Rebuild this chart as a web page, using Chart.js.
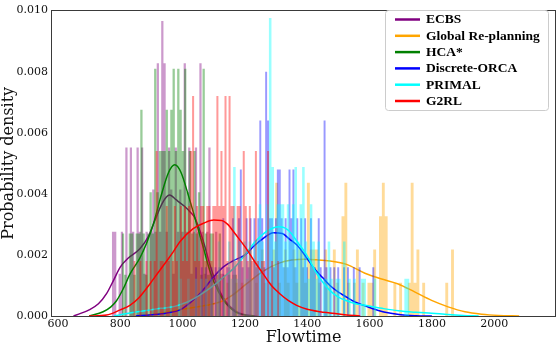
<!DOCTYPE html>
<html><head><meta charset="utf-8">
<script src="https://cdn.jsdelivr.net/npm/chart.js@4.4.1/dist/chart.umd.min.js"></script>
<style>html,body{margin:0;padding:0;background:#fff}canvas{display:block}</style>
</head><body>
<canvas id="c" width="557" height="346"></canvas>
<script>
// ---------- data ----------
const seriesNames = ['ECBS', 'Global Re-planning', 'HCA*', 'Discrete-ORCA', 'PRIMAL', 'G2RL'];
const xTickValues = [600, 800, 1000, 1200, 1400, 1600, 1800, 2000];
const yTickValues = [0, 0.002, 0.004, 0.006, 0.008, 0.010];

// histograms: first bin edge, bin width, counts per bin, density of one count
const ecbsBinStart = 773, ecbsBinWidth = 7.2, ecbsDensityPerCount = 0.00138;
const ecbsCounts = [2,2,0,1,2,0,4,0,4,2, 0,4,2,4,1,2,0,2,3,2, 6,2,7,6,2,4,3,1,4,2, 3,2,6,2,4,1,2,4,2,6, 2,1,2,4,1,0,2,0,1,1];

const globalBinStart = 1140, globalBinWidth = 9.25, globalDensityPerCount = 0.00109;
const globalCounts = [1,0,0,1,0,1,0,0,2,0, 1,0,2,1,0,1,2,4,1,0, 2,1,0,2,1,2,2,1,4,2, 2,2,1,0,2,1,0,2,1,0, 3,4,1,0,1,2,0,1,0,1, 1,2,0,3,4,3,0,0,1,0, 1,0,0,1,4,1,2,0,1,0, 0,0,0,0,0,0,1,0,2,0];

const hcaBinStart = 805, hcaBinWidth = 7.4, hcaDensityPerCount = 0.00135;
const hcaCounts = [2,1,0,2,2,1,2,2,5,2, 1,2,3,2,6,3,4,4,4,5, 4,5,6,4,6,5,4,6,3,4, 2,4,2,3,1,6,2,1,2,2, 0,1,2,0,1,0,1,0,1,1];

const orcaBinStart = 1040, orcaBinWidth = 6.25, orcaDensityPerCount = 0.0016;
const orcaCounts = [1,0,0,1,0,1,0,0,1,0, 1,0,1,0,2,0,1,1,0,2, 1,0,2,3,1,0,2,1,2,0, 2,1,2,4,2,1,5,4,2,2, 1,2,3,3,2,1,2,1,3,2, 3,1,2,0,2,1,2,1,0,2, 1,1,0,2,1,0,4,1,0,1, 0,1,0,1,0,0,1,0,1,0, 0,1,0,0,1,0,0,0,0,0, 0,1,0];

const primalBinStart = 990, primalBinWidth = 8.2, primalDensityPerCount = 0.00122;
const primalCounts = [1,0,0,1,0,0,1,0,1,0, 1,0,1,0,1,2,0,1,0,2, 1,4,1,2,0,2,1,2,1,2, 2,3,2,1,3,8,4,2,3,3, 3,2,3,2,3,4,2,3,4,2, 1,3,2,1,2,0,1,1,2,1, 0,1,1,0,2,0,1,0,1,0, 0,1,1,0,0,0,1,0,0,0, 0,0,0,0,0,0,0,0,1,1];

const g2rlBinStart = 842, g2rlBinWidth = 6.5, g2rlDensityPerCount = 0.0018;
const g2rlCounts = [1,0,0,1,0,0,1,0,1,0, 1,3,0,1,1,0,2,1,0,1, 2,1,0,2,1,2,1,2,3,4, 1,2,1,2,2,1,2,2,1,2, 2,4,2,3,2,4,1,4,2,2, 1,2,2,1,3,2,1,2,1,1, 3,1,0,1,1,0,3,0,1,0, 0,1];

// density curves (flowtime, density)
const ecbsKdeX = [650,700,730,756,780,800,826,863,890,910,935,958,980,1005,1025,1040,1065,1090,1115,1140,1170,1200,1240];
const ecbsKdeY = [0,0.0002,0.0004,0.00073,0.0012,0.0016,0.0019,0.0022,0.0026,0.0031,0.0037,0.00396,0.0038,0.0036,0.0034,0.0032,0.0025,0.0016,0.0009,0.00045,0.00016,0.00004,0];

const globalKdeX = [850,900,950,1000,1050,1100,1130,1160,1205,1259,1312,1350,1390,1430,1473,1526,1585,1639,1692,1746,1799,1852,1906,1960,2013,2080];
const globalKdeY = [0,0.00004,0.00012,0.00022,0.0003,0.0004,0.0005,0.00068,0.00105,0.00147,0.00174,0.00183,0.00186,0.00184,0.0018,0.00169,0.0014,0.00121,0.00105,0.00078,0.00051,0.0003,0.00014,0.00006,0.00002,0];

const hcaKdeX = [700,745,770,788,810,831,863,885,906,930,955,975,995,1020,1040,1065,1090,1115,1140,1170,1200,1230];
const hcaKdeY = [0,0.00014,0.0003,0.0005,0.0009,0.00137,0.0019,0.0024,0.003,0.0039,0.0047,0.00495,0.0047,0.0039,0.0032,0.0023,0.0014,0.0008,0.0004,0.00013,0.00003,0];

const orcaKdeX = [850,900,950,992,1020,1045,1070,1098,1130,1165,1200,1230,1260,1291,1320,1345,1366,1395,1419,1450,1473,1500,1526,1555,1580,1610,1650,1700,1750,1800];
const orcaKdeY = [0,0.00004,0.0001,0.0002,0.0004,0.00062,0.0009,0.00126,0.0016,0.00182,0.002,0.0023,0.00255,0.00273,0.0027,0.0025,0.00233,0.00195,0.0016,0.00125,0.001,0.00078,0.00062,0.00045,0.00035,0.00024,0.00012,0.00004,0.00001,0];

const primalKdeX = [780,808,850,895,930,969,1000,1024,1050,1077,1100,1130,1168,1200,1230,1260,1290,1312,1340,1370,1398,1430,1450,1473,1500,1526,1555,1585,1640,1692,1750,1799,1850,1900,1950];
const primalKdeY = [0,0.00006,0.00013,0.0002,0.00025,0.0003,0.0004,0.0005,0.00065,0.00083,0.001,0.00126,0.0016,0.002,0.0024,0.0027,0.00288,0.00292,0.0028,0.0024,0.002,0.0014,0.0011,0.00083,0.00062,0.0005,0.0004,0.00035,0.00025,0.00017,0.00012,0.00009,0.00005,0.00002,0];

const g2rlKdeX = [700,756,800,831,860,895,920,949,970,992,1034,1070,1100,1125,1145,1168,1205,1230,1259,1285,1312,1340,1366,1400,1441,1473,1520,1570];
const g2rlKdeY = [0,0.00003,0.0002,0.00035,0.0006,0.00105,0.0014,0.0018,0.0021,0.00244,0.00286,0.00305,0.00314,0.00313,0.003,0.0027,0.0022,0.0018,0.00137,0.001,0.00073,0.0005,0.00035,0.00022,0.00014,0.0001,0.00004,0];

// ---------- styles ----------
const seriesColors = ['128,0,128', '255,165,0', '0,128,0', '0,0,255', '0,255,255', '255,0,0'];
const SERIF = '"DejaVu Serif", serif';

const seriesTable = [
  {bs: ecbsBinStart, bw: ecbsBinWidth, q: ecbsDensityPerCount, counts: ecbsCounts, kx: ecbsKdeX, ky: ecbsKdeY},
  {bs: globalBinStart, bw: globalBinWidth, q: globalDensityPerCount, counts: globalCounts, kx: globalKdeX, ky: globalKdeY},
  {bs: hcaBinStart, bw: hcaBinWidth, q: hcaDensityPerCount, counts: hcaCounts, kx: hcaKdeX, ky: hcaKdeY},
  {bs: orcaBinStart, bw: orcaBinWidth, q: orcaDensityPerCount, counts: orcaCounts, kx: orcaKdeX, ky: orcaKdeY},
  {bs: primalBinStart, bw: primalBinWidth, q: primalDensityPerCount, counts: primalCounts, kx: primalKdeX, ky: primalKdeY},
  {bs: g2rlBinStart, bw: g2rlBinWidth, q: g2rlDensityPerCount, counts: g2rlCounts, kx: g2rlKdeX, ky: g2rlKdeY}
];

function histPoints(s) {
  const pts = s.counts.map((c, i) => ({x: s.bs + s.bw * i, y: c * s.q}));
  pts.push({x: s.bs + s.bw * s.counts.length, y: 0});
  return pts;
}
function curvePoints(s) { return s.kx.map((x, i) => ({x: x, y: s.ky[i]})); }

const datasets = [];
const total = seriesTable.length * 2;
seriesTable.forEach((s, i) => {
  datasets.push({
    label: seriesNames[i] + ' hist', data: histPoints(s), stepped: 'before', fill: 'origin',
    backgroundColor: 'rgba(' + seriesColors[i] + ',0.4)', borderColor: 'rgba(0,0,0,0)', borderWidth: 0,
    pointRadius: 0, order: total - datasets.length
  });
  datasets.push({
    label: seriesNames[i], data: curvePoints(s), fill: false, cubicInterpolationMode: 'monotone',
    borderColor: 'rgb(' + seriesColors[i] + ')', borderWidth: 1.5, pointRadius: 0, order: total - datasets.length
  });
});

const framePlugin = {
  id: 'frame',
  afterDatasetsDraw(chart) {
    const a = chart.chartArea, c = chart.ctx;
    c.save(); c.strokeStyle = '#3a3a3a'; c.lineWidth = 1;
    c.strokeRect(Math.round(a.left) - 0.5, Math.round(a.top) - 0.5, Math.round(a.right - a.left) + 1, Math.round(a.bottom - a.top) + 1);
    c.restore();
  }
};

const legendPlugin = {
  id: 'boxLegend',
  afterDraw(chart) {
    const c = chart.ctx;
    const x0 = 385.5, y0 = 10.5, w = 163, h = 100, r = 3;
    c.save();
    c.beginPath();
    c.moveTo(x0 + r, y0); c.lineTo(x0 + w - r, y0); c.quadraticCurveTo(x0 + w, y0, x0 + w, y0 + r);
    c.lineTo(x0 + w, y0 + h - r); c.quadraticCurveTo(x0 + w, y0 + h, x0 + w - r, y0 + h);
    c.lineTo(x0 + r, y0 + h); c.quadraticCurveTo(x0, y0 + h, x0, y0 + h - r);
    c.lineTo(x0, y0 + r); c.quadraticCurveTo(x0, y0, x0 + r, y0); c.closePath();
    c.fillStyle = 'rgba(255,255,255,0.8)'; c.fill();
    c.strokeStyle = '#cccccc'; c.lineWidth = 1; c.stroke();
    c.font = 'bold 13.5px "Liberation Serif", "Times New Roman", serif';
    c.textBaseline = 'middle'; c.textAlign = 'left';
    seriesNames.forEach((name, i) => {
      const y = 19.5 + i * 16.3;
      c.strokeStyle = 'rgb(' + seriesColors[i] + ')'; c.lineWidth = 2.5;
      c.beginPath(); c.moveTo(395, y); c.lineTo(420, y); c.stroke();
      c.fillStyle = '#000'; c.fillText(name, 426, y + 0.5);
    });
    c.restore();
  }
};

new Chart(document.getElementById('c').getContext('2d'), {
  type: 'line',
  data: {datasets: datasets},
  options: {
    responsive: false, animation: false, devicePixelRatio: 1,
    layout: {padding: {left: 0, right: 2, top: 5, bottom: 0}},
    plugins: {legend: {display: false}, tooltip: {enabled: false}},
    scales: {
      x: {
        type: 'linear', min: 581, max: 2195,
        afterBuildTicks: s => { s.ticks = xTickValues.map(v => ({value: v})); },
        afterFit: s => { s.height = 30; },
        grid: {display: false, drawTicks: false}, border: {display: false},
        ticks: {autoSkip: false, maxRotation: 0, padding: 2, color: '#111', font: {family: SERIF, size: 11}, callback: v => String(v)},
        title: {display: true, text: 'Flowtime', color: '#111', padding: 0, font: {family: SERIF, size: 16, lineHeight: 1}}
      },
      y: {
        type: 'linear', min: 0, max: 0.01,
        afterBuildTicks: s => { s.ticks = yTickValues.map(v => ({value: v})); },
        afterFit: s => { s.width = 52; },
        grid: {display: false, drawTicks: false}, border: {display: false},
        ticks: {padding: 4, color: '#111', font: {family: SERIF, size: 11}, callback: v => Number(v).toFixed(3)},
        title: {display: true, text: 'Probability density', color: '#111', padding: {top: 1, bottom: 0}, font: {family: SERIF, size: 16, lineHeight: 1}}
      }
    }
  },
  plugins: [framePlugin, legendPlugin]
});
</script>
</body></html>
